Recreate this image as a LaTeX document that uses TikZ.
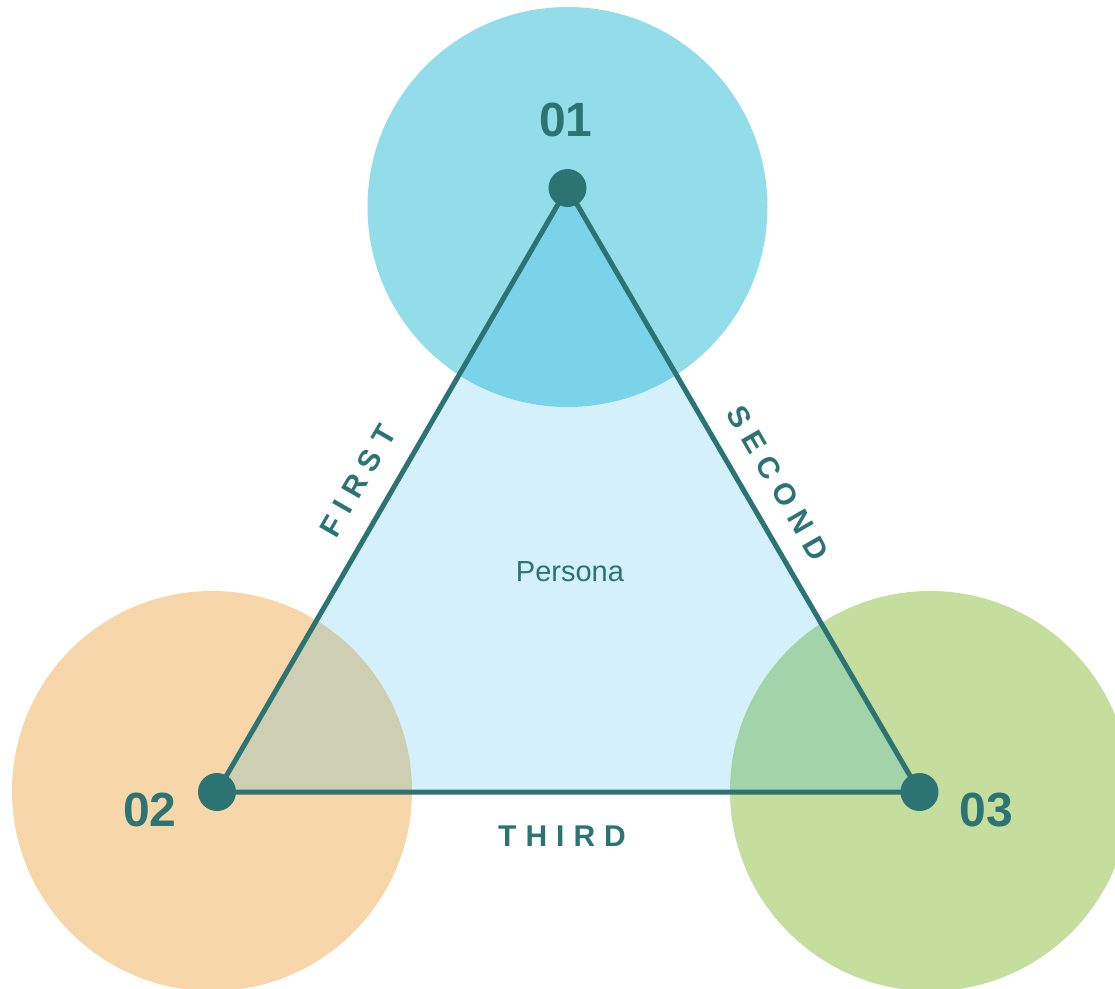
\documentclass[tikz,border=0pt]{standalone}
\usepackage{fontspec}
\setmainfont{Liberation Sans}
\definecolor{teal}{HTML}{2C7474}
\definecolor{skyc}{HTML}{93DDEB}
\definecolor{sandc}{HTML}{F7D7A9}
\definecolor{leafc}{HTML}{C5DD9D}
\definecolor{trifill}{RGB}{0,167,228}
\begin{document}
\begin{tikzpicture}[x=0.75pt,y=-0.75pt,
  blob/.style={circle,minimum size=300pt,inner sep=0pt,draw=none},
  vertex/.style={circle,fill=teal,minimum size=28.5pt,inner sep=0pt},
  edge/.style={draw=teal,line width=3.75pt},
  numlabel/.style={text=teal,font=\bfseries\fontsize{36}{40}\selectfont},
  sidelabel/.style={text=teal,font=\bfseries\fontsize{22.5}{26}\selectfont},
  centerlabel/.style={text=teal,font=\fontsize{21.75}{25}\selectfont}]
  \useasboundingbox (0,0) rectangle (1115,989);
  \clip (0,0) rectangle (1115,989);

  % background circles
  \node[blob,fill=skyc]  (c1) at (567.5,207) {};
  \node[blob,fill=sandc] (c2) at (212,791) {};
  \node[blob,fill=leafc] (c3) at (930,791) {};

  % triangle corners
  \coordinate (p1) at (567.5,188);
  \coordinate (p2) at (217,792);
  \coordinate (p3) at (919.5,792);

  % translucent triangle
  \fill[trifill,opacity=0.17] (p1) -- (p2) -- (p3) -- cycle;
  \draw[edge] (p1) -- (p2) -- (p3) -- cycle;

  \node[vertex] (v1) at (p1) {};
  \node[vertex] (v2) at (p2) {};
  \node[vertex] (v3) at (p3) {};

  % labels
  \node[numlabel] (n1) at (566,120) {01};
  \node[numlabel] (n2) at (150,810) {02};
  \node[numlabel] (n3) at (986,810) {03};

  \node[centerlabel] (persona) at (570,572) {Persona};

  \node[sidelabel,rotate=60]  (first)  at (358,481) {F\kern0.3em I\kern0.3em R\kern0.3em S\kern0.3em T};
  \node[sidelabel,rotate=-60] (second) at (778,483) {S\kern0.3em E\kern0.3em C\kern0.3em O\kern0.3em N\kern0.3em D};
  \node[sidelabel] (third) at (562,836) {T\kern0.3em H\kern0.3em I\kern0.3em R\kern0.3em D};
\end{tikzpicture}
\end{document}
